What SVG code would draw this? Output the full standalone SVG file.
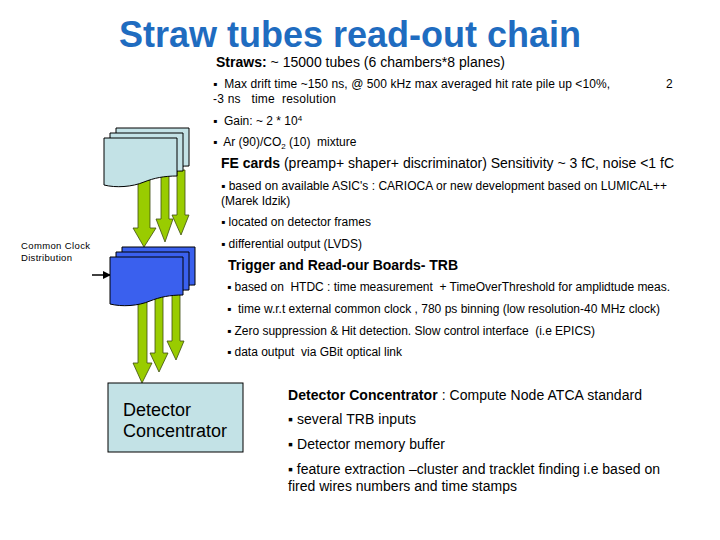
<svg xmlns="http://www.w3.org/2000/svg" width="720" height="540" viewBox="0 0 720 540">
<style>
text{font-family:"Liberation Sans",Arial,sans-serif;fill:#000;white-space:pre}
.title{font-size:36px;font-weight:bold;fill:#1f6cc0}
.h{font-size:14px}
.b{font-size:12px}
.bold{font-weight:bold}
.lb{fill:#c3e2e6;stroke:#000;stroke-width:1}
.bl{fill:#3a60ee;stroke:#000;stroke-width:1}
.ar{fill:#99cc00;stroke:#3c4d10;stroke-width:0.8}
</style>
<defs>
<path id="card" d="M0,0 H73 V38 C60,38 50,40 40,44 C28,49 12,50 0,47 Z"/>
<marker id="ah" markerWidth="8" markerHeight="8" refX="7" refY="4" orient="auto" markerUnits="userSpaceOnUse">
<path d="M0,0 L8,4 L0,8 Z" fill="#000"/>
</marker>
</defs>
<rect width="720" height="540" fill="#fff"/>
<text class="title" x="350" y="47" text-anchor="middle">Straw tubes read-out chain</text>

<g id="connectors">
<polygon class="ar" points="138,180 150,180 150,228 156,228 144,247 133,228 138,228"/>
<polygon class="ar" points="161,175 169,175 169,219 173,219 165,242 156,219 161,219"/>
<polygon class="ar" points="177,170 185,170 185,215 189,215 181,235 172,215 177,215"/>
<polygon class="ar" points="138,298 147,298 147,363 152,363 142,383 133,363 138,363"/>
<polygon class="ar" points="155,295 163,295 163,353 168,353 159,372 150,353 155,353"/>
<polygon class="ar" points="172,290 180,290 180,341 184,341 176,360 167,341 172,341"/>
<line x1="92" y1="275" x2="110" y2="275" stroke="#000" stroke-width="1.5" marker-end="url(#ah)"/>
</g>

<g id="straw-tubes">
<use href="#card" class="lb" x="116" y="128"/>
<use href="#card" class="lb" x="110" y="133"/>
<use href="#card" class="lb" x="104" y="138"/>
</g>

<g id="trb-boards">
<use href="#card" class="bl" x="122" y="247"/>
<use href="#card" class="bl" x="116" y="252"/>
<use href="#card" class="bl" x="110" y="257"/>
</g>

<g id="detector-concentrator">
<rect x="108" y="383" width="135" height="69" fill="#c3e2e6" stroke="#000" stroke-width="1"/>
<text x="123" y="416" font-size="18">Detector</text>
<text x="123" y="437" font-size="18">Concentrator</text>
</g>

<g id="clock">
<text x="21" y="249" font-size="9.5" textLength="69" lengthAdjust="spacing">Common Clock</text>
<text x="21" y="261" font-size="9.5" textLength="51" lengthAdjust="spacing">Distribution</text>
</g>

<g id="straws-text">
<text class="h" x="216" y="67" textLength="289"><tspan class="bold">Straws:</tspan> ~ 15000 tubes (6 chambers*8 planes)</text>
<text class="b" x="213" y="88" textLength="397">▪  Max drift time ~150 ns, @ 500 kHz max averaged hit rate pile up &lt;10%,</text>
<text class="b" x="666" y="88">2</text>
<text class="b" x="213" y="103" textLength="123">-3 ns   time  resolution</text>
<text class="b" x="213" y="125">▪  Gain: ~ 2 * 10<tspan font-size="8" dy="-4">4</tspan></text>
<text class="b" x="213" y="146">▪  Ar (90)/CO<tspan font-size="8" dy="3">2</tspan><tspan dy="-3"> (10)  mixture</tspan></text>
</g>

<g id="fe-text">
<text class="h" x="221" y="168" textLength="453"><tspan class="bold">FE cards</tspan> (preamp+ shaper+ discriminator) Sensitivity ~ 3 fC, noise &lt;1 fC</text>
<text class="b" x="221" y="190" textLength="446">▪ based on available ASIC's : CARIOCA or new development based on LUMICAL++</text>
<text class="b" x="221" y="205">(Marek Idzik)</text>
<text class="b" x="221" y="226" textLength="150">▪ located on detector frames</text>
<text class="b" x="221" y="248" textLength="141">▪ differential output (LVDS)</text>
</g>

<g id="trb-text">
<text class="h bold" x="228" y="270" textLength="230">Trigger and Read-our Boards- TRB</text>
<text class="b" x="227" y="291" textLength="443">▪ based on  HTDC : time measurement  + TimeOverThreshold for amplidtude meas.</text>
<text class="b" x="227" y="313" textLength="433">▪  time w.r.t external common clock , 780 ps binning (low resolution-40 MHz clock)</text>
<text class="b" x="227" y="335" textLength="368">▪ Zero suppression &amp; Hit detection. Slow control interface  (i.e EPICS)</text>
<text class="b" x="227" y="356" textLength="175">▪ data output  via GBit optical link</text>
</g>

<g id="dc-text">
<text class="h" x="288" y="400" textLength="354"><tspan class="bold">Detector Concentrator</tspan> : Compute Node ATCA standard</text>
<text class="h" x="288" y="424" textLength="128">▪ several TRB inputs</text>
<text class="h" x="288" y="449" textLength="157">▪ Detector memory buffer</text>
<text class="h" x="288" y="474" textLength="372">▪ feature extraction –cluster and tracklet finding i.e based on</text>
<text class="h" x="288" y="491" textLength="229">fired wires numbers and time stamps</text>
</g>
</svg>
